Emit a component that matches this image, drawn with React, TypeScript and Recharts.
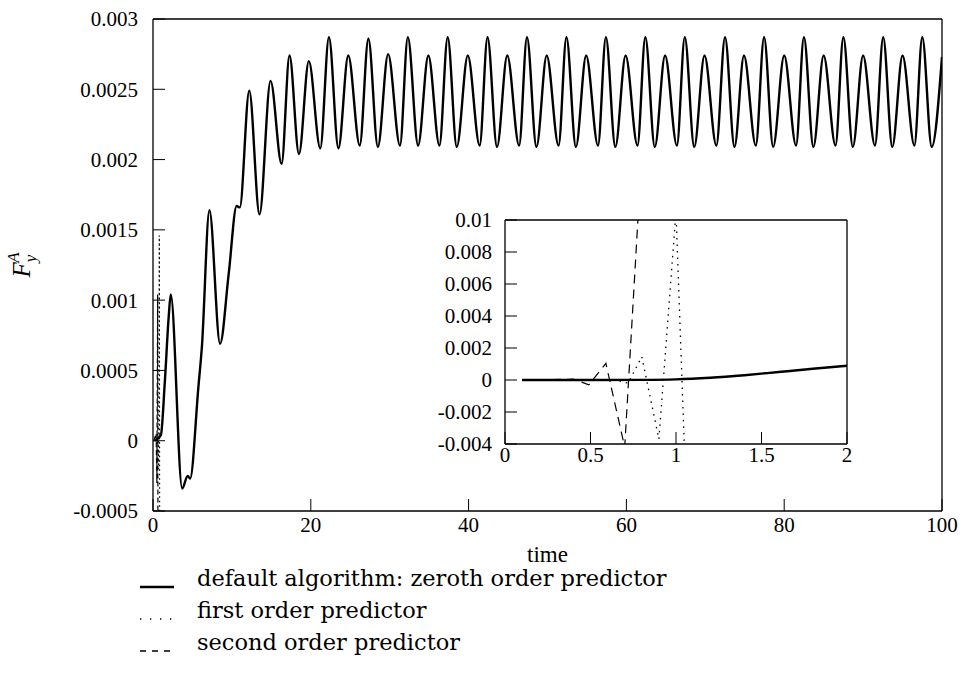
import React from "react";
import { LineChart, Line, XAxis, YAxis } from "recharts";

// default algorithm (zeroth order predictor)
const mainTime = [
  0.25, 1, 1.5, 2, 2.25, 3.7, 4.4, 4.7, 5.75, 6.2, 7.15, 8.5, 9.6, 10.6, 11, 12.2, 13.5, 14.9,
  16.3, 17.3, 18.5, 19.75, 21.2, 22.3, 23.5, 24.75, 26.2, 27.3, 28.5, 29.8, 31.3, 32.3, 33.6,
  34.9, 36.3, 37.35, 38.5, 39.9, 41.4, 42.4, 43.6, 44.9, 46.4, 47.4, 48.6, 49.9, 51.4, 52.4,
  53.6, 54.9, 56.4, 57.4, 58.6, 59.9, 61.4, 62.4, 63.6, 64.9, 66.4, 67.4, 68.6, 69.9, 71.4,
  72.5, 73.7, 74.9, 76.4, 77.45, 78.6, 80, 81.5, 82.5, 83.7, 85, 86.5, 87.5, 88.7, 90, 91.5,
  92.55, 93.7, 95, 96.5, 97.5, 98.7, 100,
];
const mainForce = [
  0, 0.00004, 0.00042, 0.00089, 0.00104, -0.00034, -0.00025, -0.00027, 0.00038, 0.00067,
  0.00164, 0.00069, 0.00119, 0.00167, 0.00166, 0.00249, 0.00161, 0.00256,
  0.00197, 0.00274, 0.00204, 0.0027, 0.00208, 0.00287, 0.00208, 0.00274, 0.0021, 0.00286,
  0.00209, 0.00275, 0.0021, 0.00287, 0.0021,
  0.00274, 0.0021, 0.00287, 0.00209, 0.00274, 0.0021, 0.00287, 0.00209, 0.00274, 0.0021,
  0.00287, 0.00209, 0.00274, 0.0021, 0.00287,
  0.00209, 0.00274, 0.0021, 0.00287, 0.00209, 0.00274, 0.0021, 0.00287, 0.00209, 0.00274,
  0.0021, 0.00287, 0.00209, 0.00274, 0.0021,
  0.00287, 0.00209, 0.00274, 0.0021, 0.00287, 0.00209, 0.00274, 0.0021, 0.00287, 0.00209,
  0.00274, 0.0021, 0.00287, 0.00209, 0.00274, 0.0021,
  0.00287, 0.00209, 0.00274, 0.0021, 0.00287, 0.00209, 0.00273,
];

// inset: start of the run
const insetTime = [0.1, 0.5, 0.8, 1.0, 1.2, 1.4, 1.6, 1.8, 2.0];
const insetForce = [0, 0, 0.00001, 0.00004, 0.00014, 0.0003, 0.0005, 0.0007, 0.00089];

const firstTime = [0.1, 0.5, 0.65, 0.72, 0.8, 0.9, 1.0, 1.05];
const firstForce = [0, 0, 0, -0.0002, 0.00146, -0.0037, 0.0105, -0.0045];

const secondTime = [0.1, 0.4, 0.49, 0.59, 0.7, 0.78];
const secondForce = [0, 0.00005, -0.0003, 0.00104, -0.0042, 0.0105];

const mainXTicks = [0, 20, 40, 60, 80, 100];
const mainYTicks = [-0.0005, 0, 0.0005, 0.001, 0.0015, 0.002, 0.0025, 0.003];
const insetXTicks = [0, 0.5, 1, 1.5, 2];
const insetYTicks = [-0.004, -0.002, 0, 0.002, 0.004, 0.006, 0.008, 0.01];

const legendItems = [
  { label: "default algorithm: zeroth order predictor", dash: undefined, width: 2.4 },
  { label: "first order predictor", dash: "1.3 8.7", width: 1.3 },
  { label: "second order predictor", dash: "6 6", width: 1.3 },
];

const FONT = "Liberation Serif";
const LEGEND_FONT = "DejaVu Serif";
const FS = 21;

const zip = (ts: number[], vs: number[]) => ts.map((t, i) => ({ t, v: vs[i] }));

const mainData = zip(mainTime, mainForce);
const insetData = zip(insetTime, insetForce);
const firstData = zip(firstTime, firstForce);
const secondData = zip(secondTime, secondForce);
// the main plot stops the predictor runs before they blow up
const firstMain = firstData.filter((p) => p.t <= 0.9);
const secondMain = secondData.filter((p) => p.t <= 0.7);

const tickStyle = { fill: "#000", fontSize: FS, fontFamily: FONT };
const axisLine = { stroke: "#000", strokeWidth: 1.3 };
const fmt = (v: number) => String(v);

const YLabel = ({ viewBox }: any) => {
  const cx = viewBox.x + 30;
  const cy = viewBox.y + viewBox.height / 2;
  return (
    <text
      transform={`translate(${cx},${cy}) rotate(-90)`}
      textAnchor="middle"
      fontFamily={FONT}
      fontStyle="italic"
      fontSize={25}
      fill="#000">
      F
      <tspan dy={6} fontSize={17}>y</tspan>
      <tspan dx={-8} dy={-17} fontSize={17}>A</tspan>
    </text>
  );
};

const Legend = () => (
  <svg width={966} height={120} style={{ position: "absolute", left: 0, top: 566 }}>
    {legendItems.map((item, i) => {
      const base = 20 + i * 32;
      return (
        <g key={item.label}>
          <line
            x1={140}
            x2={174}
            y1={base + 1}
            y2={base + 1}
            stroke="#000"
            strokeWidth={item.width}
            strokeDasharray={item.dash}
          />
          <text x={197} y={base} fontFamily={LEGEND_FONT} fontSize={22.5} fill="#000">
            {item.label}
          </text>
        </g>
      );
    })}
  </svg>
);

export default function App() {
  return (
    <div
      style={{
        position: "absolute",
        left: 0,
        top: 0,
        width: 966,
        height: 686,
        background: "#fff",
        fontFamily: FONT,
      }}>
      {/* main plot */}
      <LineChart width={966} height={590} margin={{ top: 9, right: 14, bottom: 0, left: 0 }}>
        <XAxis
          dataKey="t"
          type="number"
          domain={[0, 100]}
          ticks={mainXTicks}
          interval={0}
          allowDataOverflow
          height={79}
          tickSize={-12}
          tickMargin={18}
          tick={tickStyle}
          axisLine={axisLine}
          tickLine={{ stroke: "#000" }}
          tickFormatter={fmt}
          label={{ value: "time", position: "insideBottom", offset: 28, fill: "#000", fontSize: 23, fontFamily: FONT }}
        />
        <XAxis
          xAxisId="top"
          orientation="top"
          type="number"
          domain={[0, 100]}
          ticks={mainXTicks}
          interval={0}
          height={10}
          tickSize={-12}
          tick={false}
          axisLine={axisLine}
          tickLine={{ stroke: "#000" }}
        />
        <YAxis
          type="number"
          domain={[-0.0005, 0.003]}
          ticks={mainYTicks}
          interval={0}
          allowDataOverflow
          width={153}
          tickSize={-12}
          tickMargin={27}
          tick={tickStyle}
          axisLine={axisLine}
          tickLine={{ stroke: "#000" }}
          tickFormatter={fmt}
          label={<YLabel />}
        />
        <YAxis
          yAxisId="right"
          orientation="right"
          type="number"
          domain={[-0.0005, 0.003]}
          ticks={mainYTicks}
          interval={0}
          width={10}
          tickSize={-12}
          tick={false}
          axisLine={axisLine}
          tickLine={{ stroke: "#000" }}
        />
        <Line
          data={firstMain}
          dataKey="v"
          type="linear"
          stroke="#000"
          strokeWidth={1.2}
          strokeDasharray="1.5 3"
          dot={false}
          isAnimationActive={false}
        />
        <Line
          data={secondMain}
          dataKey="v"
          type="linear"
          stroke="#000"
          strokeWidth={1.2}
          strokeDasharray="5 3"
          dot={false}
          isAnimationActive={false}
        />
        <Line
          data={mainData}
          dataKey="v"
          type="monotone"
          stroke="#000"
          strokeWidth={2.4}
          dot={false}
          isAnimationActive={false}
        />
      </LineChart>

      {/* inset: first two time units */}
      <div style={{ position: "absolute", left: 400, top: 205 }}>
        <LineChart width={470} height={274} margin={{ top: 5, right: 13, bottom: 0, left: 0 }}>
          <XAxis
            dataKey="t"
            type="number"
            domain={[0, 2]}
            ticks={insetXTicks}
            interval={0}
            allowDataOverflow
            height={35}
            tickSize={-12}
            tickMargin={15}
            tick={tickStyle}
            axisLine={axisLine}
            tickLine={{ stroke: "#000" }}
            tickFormatter={fmt}
          />
          <XAxis
            xAxisId="top"
            orientation="top"
            type="number"
            domain={[0, 2]}
            ticks={insetXTicks}
            interval={0}
            height={10}
            tickSize={-12}
            tick={false}
            axisLine={axisLine}
            tickLine={{ stroke: "#000" }}
          />
          <YAxis
            type="number"
            domain={[-0.004, 0.01]}
            ticks={insetYTicks}
            interval={0}
            allowDataOverflow
            width={105}
            tickSize={-12}
            tickMargin={25}
            tick={tickStyle}
            axisLine={axisLine}
            tickLine={{ stroke: "#000" }}
            tickFormatter={fmt}
          />
          <YAxis
            yAxisId="right"
            orientation="right"
            type="number"
            domain={[-0.004, 0.01]}
            ticks={insetYTicks}
            interval={0}
            width={10}
            tickSize={-12}
            tick={false}
            axisLine={axisLine}
            tickLine={{ stroke: "#000" }}
          />
          <Line
            data={firstData}
            dataKey="v"
            type="linear"
            stroke="#000"
            strokeWidth={1.3}
            strokeDasharray="1.5 5"
            dot={false}
            isAnimationActive={false}
          />
          <Line
            data={secondData}
            dataKey="v"
            type="linear"
            stroke="#000"
            strokeWidth={1.2}
            strokeDasharray="9 6"
            dot={false}
            isAnimationActive={false}
          />
          <Line
            data={insetData}
            dataKey="v"
            type="monotone"
            stroke="#000"
            strokeWidth={2.4}
            dot={false}
            isAnimationActive={false}
          />
        </LineChart>
      </div>

      <Legend />
    </div>
  );
}
